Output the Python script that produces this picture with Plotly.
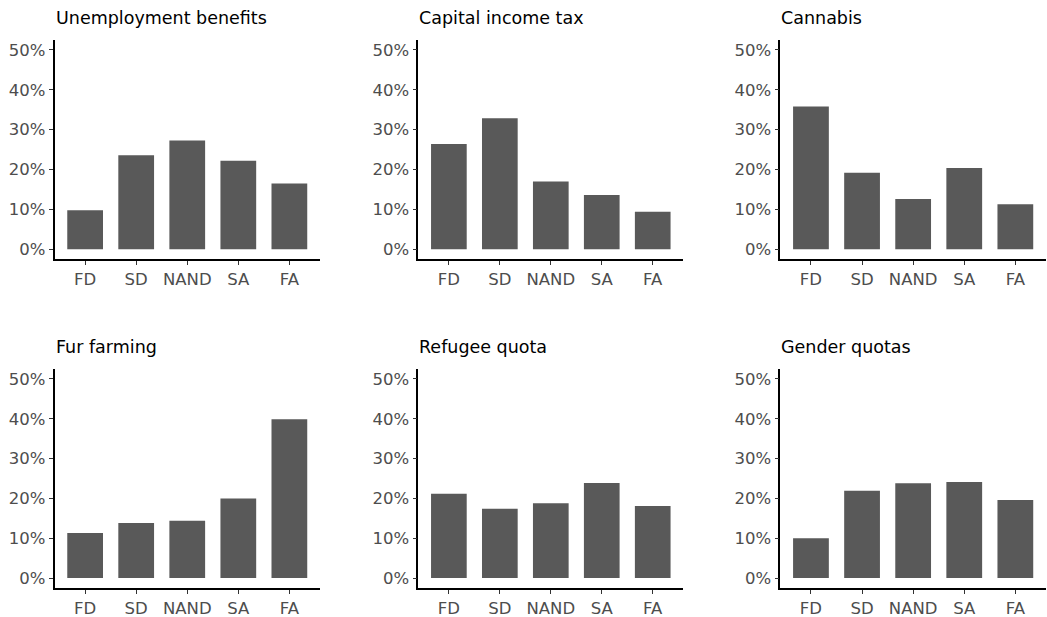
import plotly.graph_objects as go

# Response categories, shared by every panel
categories = ["FD", "SD", "NAND", "SA", "FA"]

# Share of respondents (%) per category, one list per policy issue
unemployment_benefits = [9.8, 23.6, 27.3, 22.2, 16.5]
capital_income_tax = [26.4, 32.9, 17.0, 13.6, 9.4]
cannabis = [35.8, 19.2, 12.6, 20.4, 11.3]
fur_farming = [11.3, 13.8, 14.4, 20.0, 39.9]
refugee_quota = [21.2, 17.4, 18.8, 23.9, 18.1]
gender_quotas = [10.0, 21.9, 23.8, 24.1, 19.6]

panel_titles = ["Unemployment benefits", "Capital income tax", "Cannabis",
                "Fur farming", "Refugee quota", "Gender quotas"]
panel_values = [unemployment_benefits, capital_income_tax, cannabis,
                fur_farming, refugee_quota, gender_quotas]

y_ticks = [0, 10, 20, 30, 40, 50]
y_tick_labels = ["0%", "10%", "20%", "30%", "40%", "50%"]

W, H = 1047, 617
# Plot-area boxes in pixels: (left, right) per column, (top, bottom) per row
col_px = [(54.5, 320.0), (418.3, 683.3), (780.3, 1046.0)]
row_px = [(40.0, 259.3), (369.0, 588.0)]

FONT = "DejaVu Sans"
BAR_COLOR = "#595959"
TICK_FONT = dict(family=FONT, size=16.5, color="#4d4d4d")

fig = go.Figure()
layout = dict(
    width=W, height=H,
    margin=dict(l=0, r=0, t=0, b=0),
    paper_bgcolor="white", plot_bgcolor="white",
    showlegend=False, bargap=0.3,
    font=TICK_FONT,
    annotations=[],
)

for i, (title, vals) in enumerate(zip(panel_titles, panel_values)):
    r, c = divmod(i, 3)
    n = "" if i == 0 else str(i + 1)
    xa, ya = "xaxis" + n, "yaxis" + n
    x0, x1 = col_px[c]
    top, bottom = row_px[r]
    xdom = [x0 / W, x1 / W]
    ydom = [1 - bottom / H, 1 - top / H]

    fig.add_trace(go.Bar(
        x=categories, y=vals, marker=dict(color=BAR_COLOR, line=dict(width=0)),
        xaxis="x" + n, yaxis="y" + n, hoverinfo="x+y",
    ))

    common = dict(showline=True, linecolor="black", linewidth=1.6,
                  ticks="outside", ticklen=4, tickwidth=1.2, tickcolor="#333333",
                  showgrid=False, zeroline=False, fixedrange=True,
                  tickfont=TICK_FONT)
    layout[xa] = dict(domain=xdom, anchor="y" + n, type="category",
                      categoryorder="array", categoryarray=categories,
                      range=[-0.6, 4.6], **common)
    layout[ya] = dict(domain=ydom, anchor="x" + n, range=[-2.5, 52.5],
                      tickmode="array", tickvals=y_ticks, ticktext=y_tick_labels,
                      **common)

    layout["annotations"].append(dict(
        text=title, xref="paper", yref="paper",
        x=xdom[0], y=ydom[1], xanchor="left", yanchor="bottom",
        xshift=-1, yshift=10, showarrow=False,
        font=dict(family=FONT, size=17.5, color="black"),
    ))

fig.update_layout(**layout)
fig.write_html("out.html")
